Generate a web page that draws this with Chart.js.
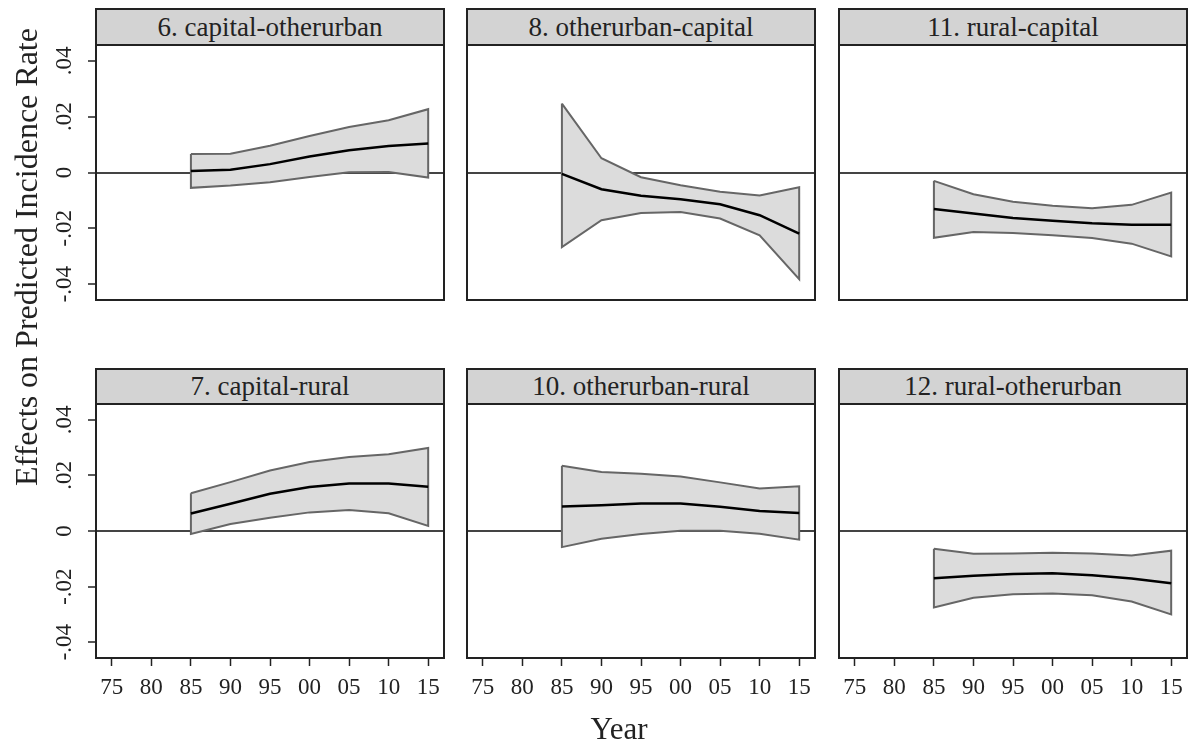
<!DOCTYPE html>
<html>
<head>
<meta charset="utf-8">
<script src="https://cdn.jsdelivr.net/npm/chart.js@4.4.1/dist/chart.umd.min.js"></script>
<style>
  body { margin: 0; background: #fff; }
  #page { position: relative; width: 1190px; height: 744px; overflow: hidden; font-family: "Liberation Serif", serif; color: #222; }
  canvas { position: absolute; }
  .strip { position: absolute; box-sizing: border-box; background: #d3d3d3; border: 2px solid #222; text-align: center; font-size: 27px; }
  .axis-title { position: absolute; text-align: center; white-space: nowrap; }
</style>
</head>
<body>
<div id="page"></div>
<script>
// data
const years = [1985, 1990, 1995, 2000, 2005, 2010, 2015];
const tickYears = [1975, 1980, 1985, 1990, 1995, 2000, 2005, 2010, 2015];
const xTickLabels = ['75', '80', '85', '90', '95', '00', '05', '10', '15'];
const yTickValues = [-0.04, -0.02, 0, 0.02, 0.04];
const yTickLabels = ['-.04', '-.02', '0', '.02', '.04'];
const panelTitles = ['6. capital-otherurban', '8. otherurban-capital', '11. rural-capital',
                     '7. capital-rural', '10. otherurban-rural', '12. rural-otherurban'];

const capOthMean  = [0.0005, 0.0010, 0.0030, 0.0057, 0.0080, 0.0095, 0.0104];
const capOthUpper = [0.0066, 0.0067, 0.0096, 0.0131, 0.0163, 0.0187, 0.0227];
const capOthLower = [-0.0055, -0.0047, -0.0035, -0.0016, 0.0001, 0.0002, -0.0018];

const othCapMean  = [-0.0005, -0.0060, -0.0083, -0.0096, -0.0114, -0.0153, -0.0219];
const othCapUpper = [0.0247, 0.0051, -0.0017, -0.0046, -0.0069, -0.0082, -0.0053];
const othCapLower = [-0.0267, -0.0171, -0.0145, -0.0142, -0.0165, -0.0225, -0.0382];

const rurCapMean  = [-0.0131, -0.0147, -0.0163, -0.0173, -0.0182, -0.0187, -0.0187];
const rurCapUpper = [-0.0030, -0.0078, -0.0105, -0.0119, -0.0128, -0.0116, -0.0072];
const rurCapLower = [-0.0234, -0.0213, -0.0217, -0.0225, -0.0235, -0.0255, -0.0301];

const capRurMean  = [0.0063, 0.0098, 0.0134, 0.0158, 0.0171, 0.0171, 0.0159];
const capRurUpper = [0.0136, 0.0176, 0.0218, 0.0248, 0.0266, 0.0276, 0.0299];
const capRurLower = [-0.0011, 0.0025, 0.0048, 0.0067, 0.0076, 0.0064, 0.0018];

const othRurMean  = [0.0088, 0.0093, 0.0099, 0.0099, 0.0087, 0.0072, 0.0065];
const othRurUpper = [0.0235, 0.0212, 0.0206, 0.0196, 0.0175, 0.0153, 0.0161];
const othRurLower = [-0.0058, -0.0028, -0.0011, 0.0001, 0.0001, -0.0010, -0.0031];

const rurOthMean  = [-0.0170, -0.0161, -0.0155, -0.0152, -0.0159, -0.0171, -0.0188];
const rurOthUpper = [-0.0064, -0.0082, -0.0081, -0.0078, -0.0081, -0.0088, -0.0071];
const rurOthLower = [-0.0275, -0.0240, -0.0228, -0.0225, -0.0231, -0.0254, -0.0300];

const panelSeries = [
  [capOthMean, capOthUpper, capOthLower],
  [othCapMean, othCapUpper, othCapLower],
  [rurCapMean, rurCapUpper, rurCapLower],
  [capRurMean, capRurUpper, capRurLower],
  [othRurMean, othRurUpper, othRurLower],
  [rurOthMean, rurOthUpper, rurOthLower]
];

// layout
const plotLeft = [96, 467, 839];
const plotWidth = 348;
const plotTop = [45, 404];
const plotHeight = [255, 254];
const stripTop = [8, 368];
const yAxisW = 80;
const padTop = 4, padRight = 6;

const page = document.getElementById('page');

const framePlugin = {
  id: 'frame',
  afterDraw(chart, args, opts) {
    const { ctx, chartArea: a } = chart;
    ctx.save();
    ctx.strokeStyle = '#222';
    ctx.lineWidth = 2;
    ctx.strokeRect(a.left, a.top, a.right - a.left, a.bottom - a.top);
    if (opts.yLabels) {
      const ys = chart.scales.y;
      ctx.font = '23px "Liberation Serif"';
      ctx.fillStyle = '#222';
      ctx.textAlign = 'center';
      ctx.textBaseline = 'middle';
      ys.ticks.forEach(t => {
        const py = ys.getPixelForValue(t.value);
        ctx.save();
        ctx.translate(a.left - 31, py);
        ctx.rotate(-Math.PI / 2);
        ctx.fillText(yTickLabels[yTickValues.indexOf(t.value)], 0, 0);
        ctx.restore();
      });
    }
    ctx.restore();
  }
};

function bandShape(upper, lower) {
  const top = years.map((x, i) => ({ x, y: upper[i] }));
  const bot = years.map((x, i) => ({ x, y: lower[i] })).reverse();
  return top.concat(bot, [top[0]]);
}

panelTitles.forEach((title, p) => {
  const r = Math.floor(p / 3), c = p % 3;
  const isLeft = c === 0, isBottom = r === 1;
  const xAxisH = isBottom ? 56 : 4;

  const strip = document.createElement('div');
  strip.className = 'strip';
  strip.textContent = title;
  Object.assign(strip.style, {
    left: (plotLeft[c] - 1) + 'px', top: stripTop[r] + 'px',
    width: (plotWidth + 2) + 'px', height: (plotTop[r] - stripTop[r] + 1) + 'px',
    lineHeight: (plotTop[r] - stripTop[r] - 3) + 'px'
  });
  page.appendChild(strip);

  const cv = document.createElement('canvas');
  cv.width = yAxisW + plotWidth + padRight;
  cv.height = padTop + plotHeight[r] + xAxisH;
  cv.style.left = (plotLeft[c] - yAxisW) + 'px';
  cv.style.top = (plotTop[r] - padTop) + 'px';
  page.appendChild(cv);

  const [mean, upper, lower] = panelSeries[p];

  new Chart(cv, {
    type: 'line',
    data: {
      datasets: [{
        data: years.map((x, i) => ({ x, y: mean[i] })),
        order: 0,
        fill: false,
        borderColor: '#000',
        borderWidth: 2.5,
        pointRadius: 0,
        tension: 0
      }, {
        data: bandShape(upper, lower),
        order: 1,
        fill: 'shape',
        backgroundColor: '#dcdcdc',
        borderColor: '#666',
        borderWidth: 2,
        pointRadius: 0,
        tension: 0
      }]
    },
    options: {
      responsive: false,
      animation: false,
      layout: { padding: { top: padTop, right: padRight, left: 0, bottom: 0 } },
      plugins: {
        legend: { display: false },
        tooltip: { enabled: false },
        frame: { yLabels: isLeft }
      },
      scales: {
        x: {
          type: 'linear',
          min: 1973,
          max: 2017,
          afterBuildTicks: s => { s.ticks = tickYears.map(v => ({ value: v })); },
          afterFit: s => { s.height = xAxisH; },
          grid: { drawOnChartArea: false, drawTicks: isBottom, tickLength: 8, tickColor: '#222', tickWidth: 1.5 },
          border: { display: false },
          ticks: {
            display: isBottom,
            autoSkip: false,
            maxRotation: 0,
            padding: 8,
            color: '#222',
            font: { family: 'Liberation Serif', size: 23 },
            callback: v => xTickLabels[tickYears.indexOf(v)]
          }
        },
        y: {
          min: -0.0457,
          max: 0.0457,
          afterBuildTicks: s => { s.ticks = yTickValues.map(v => ({ value: v })); },
          afterFit: s => { s.width = yAxisW; },
          grid: {
            color: ctx => (ctx.tick && ctx.tick.value === 0) ? '#444' : 'rgba(0,0,0,0)',
            lineWidth: 2,
            drawTicks: isLeft, tickLength: 8, tickColor: '#222', tickWidth: 1.5
          },
          border: { display: false },
          ticks: { display: false }
        }
      }
    },
    plugins: [framePlugin]
  });
});

const yTitle = document.createElement('div');
yTitle.className = 'axis-title';
yTitle.textContent = 'Effects on Predicted Incidence Rate';
Object.assign(yTitle.style, { left: (26 - 300) + 'px', top: (257 - 22) + 'px', width: '600px', height: '44px', lineHeight: '44px', fontSize: '32px', transform: 'rotate(-90deg)' });
page.appendChild(yTitle);

const xTitle = document.createElement('div');
xTitle.className = 'axis-title';
xTitle.textContent = 'Year';
Object.assign(xTitle.style, { left: '519px', top: '710px', width: '200px', height: '38px', lineHeight: '38px', fontSize: '31px' });
page.appendChild(xTitle);
</script>
</body>
</html>
